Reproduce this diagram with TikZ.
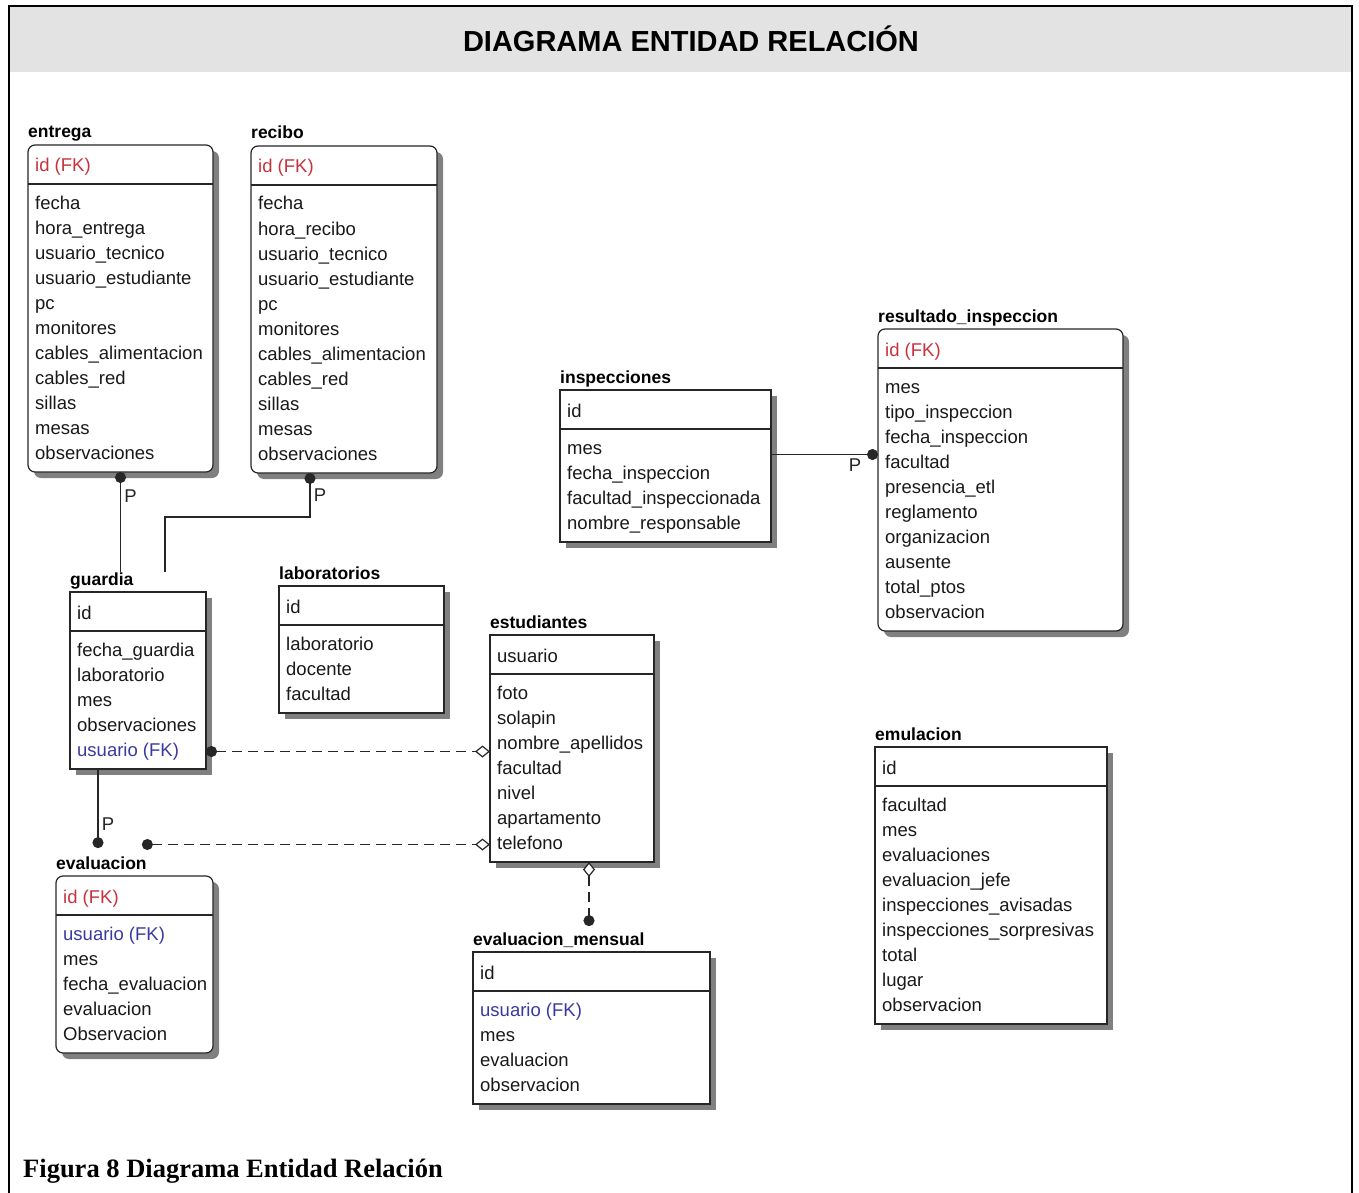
\documentclass[tikz,border=0pt]{standalone}
\usepackage{fontspec}
\setmainfont{Liberation Sans}
\newfontfamily\capfont{Liberation Serif}
\usetikzlibrary{arrows.meta,shadows}
\definecolor{hdrgray}{HTML}{E3E3E3}
\definecolor{fkred}{HTML}{C8323C}
\definecolor{fkblue}{HTML}{3A3A9E}
\definecolor{shadowgray}{HTML}{808080}

% entity: [box style]{name}{title}{x}{top}{width}{rows}{key}{attributes}
\newcommand{\erentity}[9][]{%
  \node[enttitle] (#2t) at (#4,#5-7) {#3};
  \node[entbox,#1,minimum width=#6pt,minimum height={(52+25*#7)*1pt}] (#2) at (#4,#5) {};
  \draw[entline] (#4,#5+39) -- ++(#6,0);
  \node[rowtxt] (#2-0) at (#4+7,#5+27) {#8};
  \foreach \a [count=\i] in {#9}
    \node[rowtxt] (#2-\i) at (#4+7,#5+39+25*\i) {\a};
}

\begin{document}
\begin{tikzpicture}[
    x=1pt, y=-1pt,
    enttitle/.style={
      anchor=base west,
      inner sep=0pt,
      font=\fontsize{17.5}{20}\selectfont\bfseries
    },
    entbox/.style={
      draw=black!85,
      line width=1.2pt,
      fill=white,
      anchor=north west,
      inner sep=0pt,
      outer sep=0pt,
      drop shadow={shadow xshift=6pt,shadow yshift=-6pt,fill=shadowgray,opacity=1}
    },
    depbox/.style={rounded corners=7pt},
    entline/.style={line width=1.2pt, black!85},
    rowtxt/.style={
      anchor=base west,
      inner sep=0pt,
      text height=13pt,
      text depth=4pt,
      text=black!90,
      font=\fontsize{18.5}{22}\selectfont
    },
    idrel/.style={line width=1.6pt, black!85},
    nonidrel/.style={idrel, dash pattern=on 10pt off 6pt},
    plabel/.style={inner sep=3pt, font=\fontsize{18.5}{22}\selectfont},
    dot/.tip={Circle[length=11pt]},
    hollow/.tip={Diamond[open,length=15pt,width=12pt,fill=white,line width=1.2pt]}
  ]

  \useasboundingbox (0,0) rectangle (1359,1193);

  % frame and heading
  \fill[hdrgray] (9,6) rectangle (1352,72);
  \draw[line width=2.5pt] (9,1193) -- (9,6) -- (1352,6) -- (1352,1193);
  \node[anchor=base, inner sep=0pt, font=\fontsize{29}{34}\selectfont\bfseries]
    (heading) at (691,52) {DIAGRAMA ENTIDAD RELACIÓN};

  % entities
  \erentity[depbox]{entrega}{entrega}{28}{145}{185}{11}{\color{fkred}id (FK)}
    {fecha, hora\_entrega, usuario\_tecnico, usuario\_estudiante, pc, monitores,
     cables\_alimentacion, cables\_red, sillas, mesas, observaciones}
  \erentity[depbox]{recibo}{recibo}{251}{146}{186}{11}{\color{fkred}id (FK)}
    {fecha, hora\_recibo, usuario\_tecnico, usuario\_estudiante, pc, monitores,
     cables\_alimentacion, cables\_red, sillas, mesas, observaciones}
  \erentity{guardia}{guardia}{70}{592}{136}{5}{id}
    {fecha\_guardia, laboratorio, mes, observaciones, {\color{fkblue}usuario (FK)}}
  \erentity{laboratorios}{laboratorios}{279}{586}{165}{3}{id}
    {laboratorio, docente, facultad}
  \erentity{estudiantes}{estudiantes}{490}{635}{164}{7}{usuario}
    {foto, solapin, nombre\_apellidos, facultad, nivel, apartamento, telefono}
  \erentity[depbox]{evaluacion}{evaluacion}{56}{876}{157}{5}{\color{fkred}id (FK)}
    {{\color{fkblue}usuario (FK)}, mes, fecha\_evaluacion, evaluacion, Observacion}
  \erentity{evalmensual}{evaluacion\_mensual}{473}{952}{237}{4}{id}
    {{\color{fkblue}usuario (FK)}, mes, evaluacion, observacion}
  \erentity{inspecciones}{inspecciones}{560}{390}{211}{4}{id}
    {mes, fecha\_inspeccion, facultad\_inspeccionada, nombre\_responsable}
  \erentity[depbox]{resultado}{resultado\_inspeccion}{878}{329}{245}{10}{\color{fkred}id (FK)}
    {mes, tipo\_inspeccion, fecha\_inspeccion, facultad, presencia\_etl, reglamento,
     organizacion, ausente, total\_ptos, observacion}
  \erentity{emulacion}{emulacion}{875}{747}{232}{9}{id}
    {facultad, mes, evaluaciones, evaluacion\_jefe, inspecciones\_avisadas,
     inspecciones\_sorpresivas, total, lugar, observacion}

  % identifying relations
  \draw[idrel, dot-] (entrega.south)
    -- node[plabel, right, pos=0.24] {P} (entrega.south |- guardiat.north);
  \draw[idrel, dot-] ([xshift=-34pt]recibo.south)
    -- node[plabel, right, pos=0.5] {P} ++(0,44)
    -| ([xshift=95pt]guardia.west |- guardiat.north);
  \draw[idrel, -dot] ([xshift=28pt]guardia.south west)
    -- node[plabel, right, pos=0.7] {P}
    ([xshift=28pt,yshift=8pt]guardia.south west |- evaluaciont.north);
  \draw[idrel, -dot] ([yshift=-5pt]inspecciones-1 -| inspecciones.east)
    -- ([yshift=-5pt]inspecciones-1 -| resultado.west)
    node[plabel, anchor=north east, xshift=-13pt, pos=1] {P};

  % non-identifying relations
  \draw[nonidrel, dot-hollow] (guardia-5 -| guardia.east)
    -- (guardia-5 -| estudiantes.west);
  \draw[nonidrel, dot-hollow] ([xshift=-5pt]estudiantes-7 -| evaluaciont.east)
    -- (estudiantes-7 -| estudiantes.west);
  \draw[nonidrel, hollow-dot] ([xshift=17pt]estudiantes.south)
    -- ([xshift=17pt,yshift=6pt]estudiantes.south |- evalmensualt.north);

  % caption
  \node[anchor=base west, inner sep=0pt, font=\capfont\fontsize{26.5}{30}\selectfont\bfseries]
    (caption) at (23,1177) {Figura 8 Diagrama Entidad Relación};

\end{tikzpicture}
\end{document}
